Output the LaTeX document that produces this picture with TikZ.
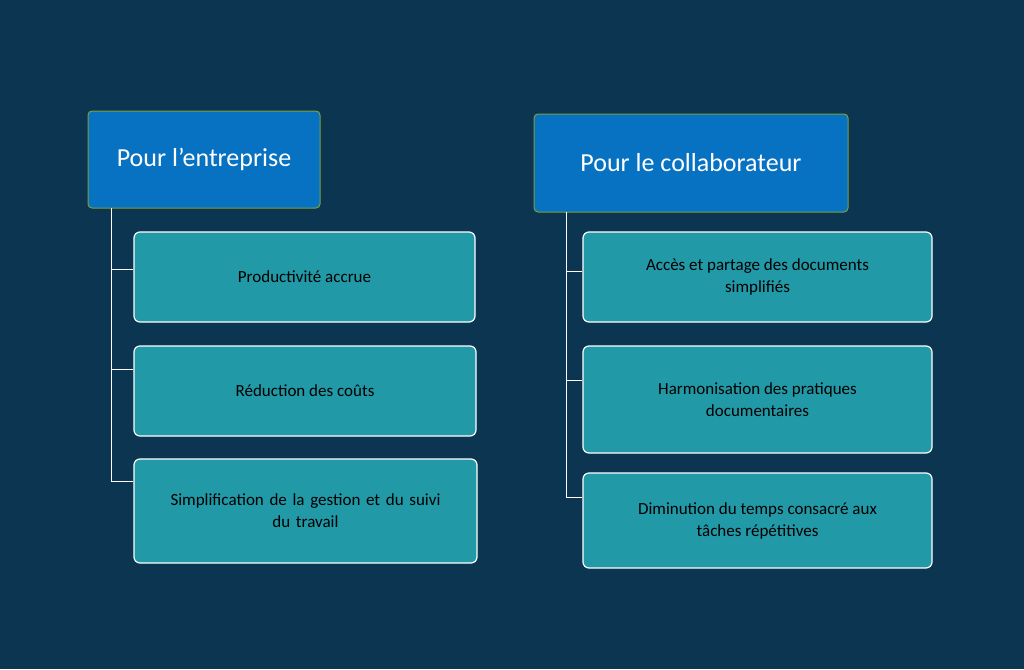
\documentclass[tikz,border=0pt]{standalone}
\usepackage{fontspec}
\setmainfont{Carlito}
\definecolor{bg}{HTML}{0B3551}
\definecolor{hdr}{HTML}{0872C2}
\definecolor{hdrb}{HTML}{7F9F3A}
\definecolor{child}{HTML}{2199A7}
\begin{document}
\begin{tikzpicture}[x=1pt,y=-1pt,
  hdr/.style={draw=hdrb,line width=1pt,fill=hdr,rounded corners=4pt,text=white,font=\fontsize{26}{30}\selectfont,inner sep=0pt},
  ch/.style={draw=white,line width=1.2pt,fill=child,rounded corners=6pt,text=black,font=\fontsize{17}{22}\selectfont,align=center,inner sep=0pt},
  ln/.style={draw=white,line width=1pt}]
\fill[bg] (0,0) rectangle (1024,669);
\useasboundingbox (0,0) rectangle (1024,669);
\node[hdr,minimum width=232pt,minimum height=97pt] (h1) at (204,159.5) {Pour l'entreprise};
\node[hdr,minimum width=314pt,minimum height=98pt] (h2) at (691,163) {Pour le collaborateur};
\node[ch,minimum width=341pt,minimum height=90pt] (a1) at (304.5,277) {Productivité accrue};
\node[ch,minimum width=342pt,minimum height=90pt] (a2) at (305,391) {Réduction des coûts};
\node[ch,minimum width=343pt,minimum height=104pt,text width=330pt] (a3) at (305.5,511) {Simplification de la gestion et du suivi\\du travail};
\node[ch,minimum width=349pt,minimum height=90pt] (b1) at (757.5,277) {Accès et partage des documents\\simplifiés};
\node[ch,minimum width=349pt,minimum height=107pt] (b2) at (757.5,399.5) {Harmonisation des pratiques\\documentaires};
\node[ch,minimum width=349pt,minimum height=95pt] (b3) at (757.5,520.5) {Diminution du temps consacré aux\\tâches répétitives};
\coordinate (l1) at (111,208); \coordinate (l3) at (111,481);
\draw[ln] (l1) -- (l3) -- (a3.west |- l3);
\draw[ln] (111,269) -- (a1.west |- 0,269);
\draw[ln] (111,369) -- (a2.west |- 0,369);
\coordinate (r1) at (566,212); \coordinate (r3) at (566,497);
\draw[ln] (r1) -- (r3) -- (b3.west |- r3);
\draw[ln] (566,271) -- (b1.west |- 0,271);
\draw[ln] (566,380) -- (b2.west |- 0,380);
\end{tikzpicture}
\end{document}
